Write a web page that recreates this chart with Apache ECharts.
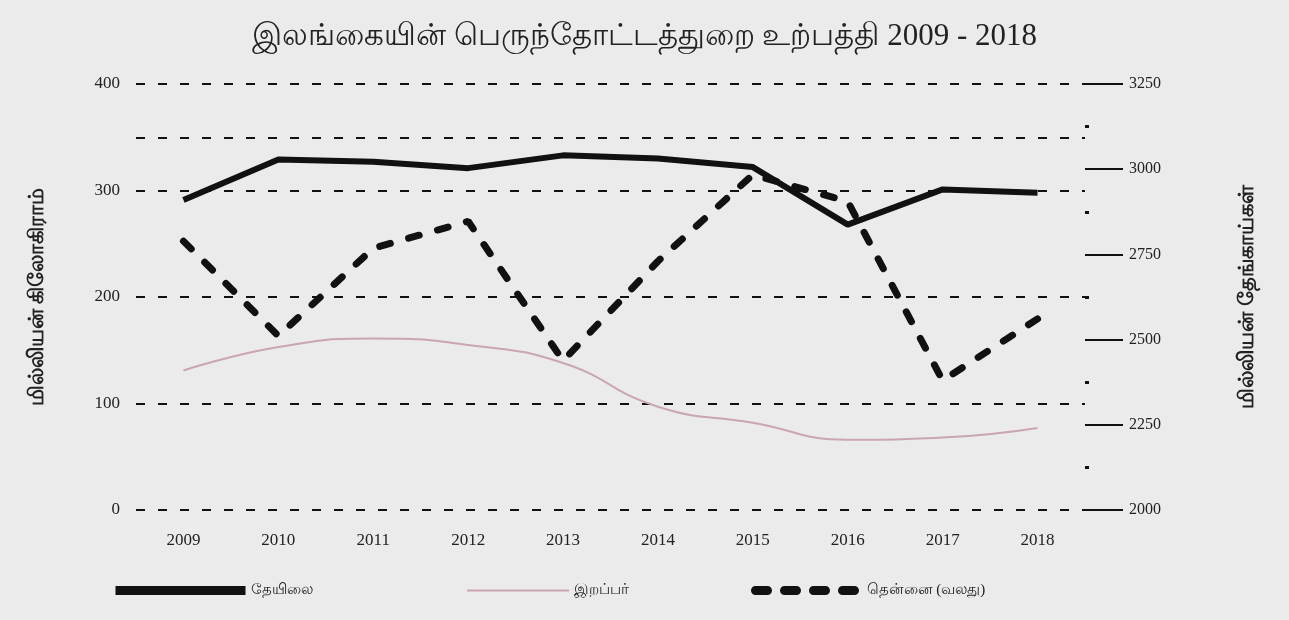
<!DOCTYPE html>
<html>
<head>
<meta charset="utf-8">
<script src="https://cdn.jsdelivr.net/npm/echarts@6/dist/echarts.min.js"></script>
<style>
html,body{margin:0;padding:0;background:#ebebeb;}
#c{width:1289px;height:620px;}
</style>
</head>
<body>
<div id="c"></div>
<script>
const titleText = 'இலங்கையின் பெருந்தோட்டத்துறை உற்பத்தி 2009 - 2018';
const years = ['2009','2010','2011','2012','2013','2014','2015','2016','2017','2018'];
const tea = [291, 329, 327, 321, 333, 330, 322, 268, 301, 298];
const rubber = [131, 153, 161, 155, 138, 97, 82, 66, 68, 77];
const coconut = [2789, 2511, 2768, 2847, 2438, 2730, 2984, 2905, 2380, 2561];
const seriesNames = ['தேயிலை', 'இறப்பர்', 'தென்னை (வலது)'];
const leftAxisName = 'மில்லியன் கிலோகிராம்';
const rightAxisName = 'மில்லியன் தேங்காய்கள்';
const extraGridLines = [350];

const serif = "'Liberation Serif', 'DejaVu Serif', serif";
const chart = echarts.init(document.getElementById('c'));
const legendText = {fontSize: 15, color: '#222', fontFamily: serif};
const hiddenSymbol = {opacity: 0};
chart.setOption({
  backgroundColor: '#ebebeb',
  animation: false,
  title: {
    text: titleText, left: 'center', top: 16,
    textStyle: {fontSize: 31, fontWeight: 'normal', color: '#222', fontFamily: serif}
  },
  legend: [
    {data: [seriesNames[0]], left: 106, top: 578, itemWidth: 130, itemHeight: 14, textStyle: legendText,
      itemStyle: hiddenSymbol, lineStyle: {width: 9, color: '#111'}},
    {data: [seriesNames[1]], left: 461, top: 578, itemWidth: 102, itemHeight: 14, textStyle: legendText,
      itemStyle: hiddenSymbol, lineStyle: {width: 2, color: '#caa6ae'}},
    {data: [seriesNames[2]], left: 746, top: 578, itemWidth: 106, itemHeight: 14, textStyle: legendText,
      itemStyle: hiddenSymbol, lineStyle: {width: 9, color: '#111', type: [12, 17]}}
  ],
  grid: {left: 136, right: 204, top: 84, bottom: 110},
  xAxis: {
    type: 'category', data: years, boundaryGap: true,
    axisLine: {show: false}, axisTick: {show: false},
    axisLabel: {margin: 22, fontSize: 17, color: '#222', fontFamily: serif}
  },
  yAxis: [
    {
      type: 'value', min: 0, max: 400, interval: 100, position: 'left',
      name: leftAxisName, nameLocation: 'middle', nameGap: 88, nameRotate: 90,
      nameTextStyle: {fontSize: 21, fontWeight: 'bold', color: '#222', fontFamily: serif},
      axisLine: {show: false}, axisTick: {show: false},
      axisLabel: {margin: 16, fontSize: 17, color: '#222', fontFamily: serif},
      splitLine: {show: true, lineStyle: {color: '#111', width: 2, type: [9, 13]}}
    },
    {
      type: 'value', min: 2000, max: 3250, interval: 250, position: 'right',
      name: rightAxisName, nameLocation: 'middle', nameGap: 152, nameRotate: 90,
      nameTextStyle: {fontSize: 21, fontWeight: 'bold', color: '#222', fontFamily: serif},
      axisLine: {show: false},
      axisTick: {show: true, length: 38, lineStyle: {color: '#111', width: 2}},
      minorTick: {show: true, splitNumber: 2, length: 4, lineStyle: {color: '#111', width: 3}},
      axisLabel: {margin: 44, fontSize: 16, color: '#222', fontFamily: serif, formatter: v => String(v)},
      splitLine: {show: false}
    }
  ],
  series: [
    {
      name: seriesNames[0], type: 'line', data: tea, yAxisIndex: 0,
      symbol: 'none', lineStyle: {color: '#111', width: 6}, itemStyle: {color: '#111'},
      markLine: {
        silent: true, symbol: 'none', label: {show: false},
        lineStyle: {color: '#111', width: 2, type: [9, 13]},
        data: extraGridLines.map(v => ({yAxis: v}))
      }
    },
    {
      name: seriesNames[1], type: 'line', data: rubber, yAxisIndex: 0, smooth: 0.5,
      symbol: 'none', lineStyle: {color: '#caa6ae', width: 2}, itemStyle: {color: '#caa6ae'}
    },
    {
      name: seriesNames[2], type: 'line', data: coconut, yAxisIndex: 1,
      symbol: 'none', lineStyle: {color: '#111', width: 7, type: [11, 19], cap: 'round'},
      itemStyle: {color: '#111'}
    }
  ]
});
</script>
</body>
</html>
